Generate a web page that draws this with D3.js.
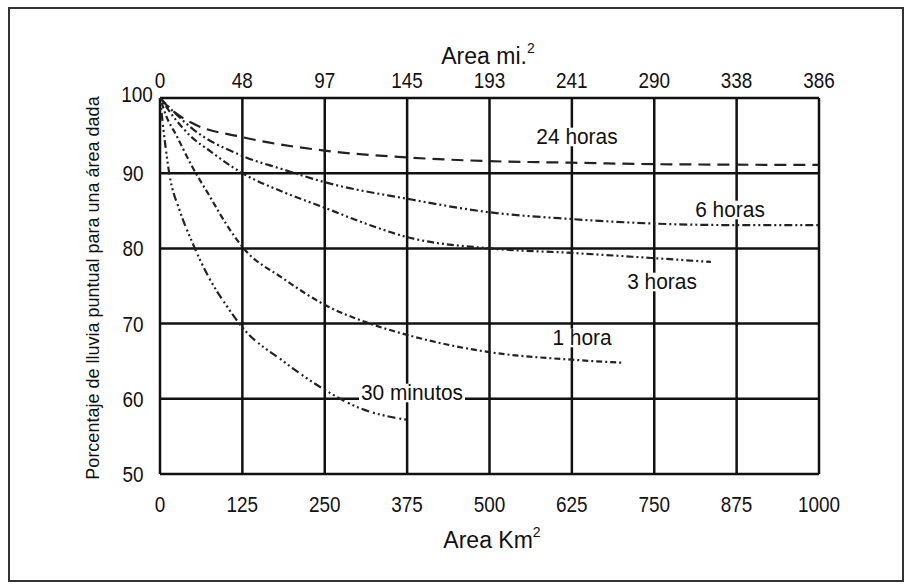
<!DOCTYPE html>
<html>
<head>
<meta charset="utf-8">
<script src="https://cdn.jsdelivr.net/npm/d3@7"></script>
<style>
  body { margin: 0; background: #fff; }
  text { font-family: "Liberation Sans", Arial, sans-serif; fill: #111; }
</style>
</head>
<body>
<svg id="svg" width="912" height="588"></svg>
<script>
const svg = d3.select("#svg");

// tick labels
const kmTicks = [0, 125, 250, 375, 500, 625, 750, 875, 1000];
const miTicks = ["0", "48", "97", "145", "193", "241", "290", "338", "386"];
const pctTicks = [50, 60, 70, 80, 90, 100];

// curves (area km2, % of point rainfall)
const area24h = [0, 14, 48, 125, 250, 375, 500, 625, 750, 1000];
const pct24h = [100, 98.7, 96.7, 94.8, 93, 92.1, 91.6, 91.4, 91.2, 91.1];
const area6h = [0, 25, 48, 125, 187, 250, 375, 500, 625, 750, 875, 1000];
const pct6h = [100, 97.8, 96, 92.3, 90.5, 88.8, 86.6, 84.8, 83.9, 83.3, 83.1, 83.1];
const area3h = [0, 25, 48, 75, 125, 187, 250, 312, 375, 500, 625, 750, 836];
const pct3h = [100, 97, 94.8, 93, 90, 87.5, 85.4, 83.3, 81.5, 80, 79.4, 78.7, 78.2];
const area1h = [0, 10, 25, 48, 75, 100, 125, 187, 250, 312, 375, 500, 625, 700];
const pct1h = [100, 97.5, 95, 91, 87, 83.3, 80.2, 76, 72.5, 70.2, 68.5, 66.2, 65.2, 64.8];
const area30m = [0, 5, 14, 30, 48, 75, 100, 125, 187, 250, 302, 375];
const pct30m = [100, 96, 90, 85, 81, 76, 72.5, 69.5, 65, 61.2, 58.8, 57.2];

const series = [
	{ name: "24 horas", area: area24h, pct: pct24h, dash: "12,7", lx: 577, ly: 137 },
	{ name: "6 horas", area: area6h, pct: pct6h, dash: "8,3,2,3,2,3", lx: 730, ly: 210 },
	{ name: "3 horas", area: area3h, pct: pct3h, dash: "2,3,2,3,7,3", lx: 662, ly: 282 },
	{ name: "1 hora", area: area1h, pct: pct1h, dash: "2,3,6,3", lx: 582, ly: 338 },
	{ name: "30 minutos", area: area30m, pct: pct30m, dash: "2,3,2,3,2,3,8,4", lx: 412, ly: 393 },
];

const x = d3.scaleLinear().domain([0, 1000]).range([160, 819]);
const y = d3.scaleLinear().domain([50, 100]).range([474, 98]);

// narrow text: put it at (px, py) and squeeze it sideways
const narrow = (px, py, k) => `translate(${px},${py}) scale(${k},1)`;

// outer frame
svg.append("rect")
	.attr("x", 9).attr("y", 8).attr("width", 894).attr("height", 573)
	.attr("fill", "none").attr("stroke", "#333").attr("stroke-width", 2);

// grid
const grid = svg.append("g").attr("stroke", "#111").attr("stroke-width", 2.5);
grid.selectAll(".vline")
	.data(kmTicks)
	.join("line")
	.attr("class", "vline")
	.attr("x1", (d) => x(d)).attr("x2", (d) => x(d))
	.attr("y1", y(100)).attr("y2", y(50));
grid.selectAll(".hline")
	.data(pctTicks)
	.join("line")
	.attr("class", "hline")
	.attr("x1", x(0)).attr("x2", x(1000))
	.attr("y1", (d) => y(d)).attr("y2", (d) => y(d));

// curves
const line = d3.line()
	.x((d) => x(d[0]))
	.y((d) => y(d[1]))
	.curve(d3.curveMonotoneX);

svg.append("g")
	.selectAll("path")
	.data(series)
	.join("path")
	.attr("d", (s) => line(s.area.map((a, i) => [a, s.pct[i]])))
	.attr("fill", "none")
	.attr("stroke", "#222")
	.attr("stroke-width", 2.2)
	.attr("stroke-dasharray", (s) => s.dash);

// curve labels, with a white patch behind
const labels = svg.append("g").selectAll("g").data(series).join("g")
	.attr("transform", (s) => narrow(s.lx, s.ly, 0.95));
labels.append("text")
	.attr("text-anchor", "middle")
	.attr("dominant-baseline", "central")
	.attr("font-size", 22)
	.text((s) => s.name);
labels.each(function () {
	const g = d3.select(this);
	const b = g.select("text").node().getBBox();
	g.insert("rect", "text")
		.attr("x", b.x - 2).attr("y", b.y + 3)
		.attr("width", b.width + 4).attr("height", b.height - 6)
		.attr("fill", "#fff");
});

// bottom axis labels
svg.append("g")
	.selectAll("text")
	.data(kmTicks)
	.join("text")
	.attr("transform", (d) => narrow(x(d), 504, 0.86))
	.attr("text-anchor", "middle").attr("dominant-baseline", "central")
	.attr("font-size", 22)
	.text((d) => d);

// top axis labels
svg.append("g")
	.selectAll("text")
	.data(miTicks)
	.join("text")
	.attr("transform", (d, i) => narrow(x(kmTicks[i]), 80, 0.86))
	.attr("text-anchor", "middle").attr("dominant-baseline", "central")
	.attr("font-size", 22)
	.text((d) => d);

// left axis labels
svg.append("g")
	.selectAll("text")
	.data(pctTicks)
	.join("text")
	.attr("transform", (d) => (d == 100 ? narrow(137, 94, 0.86) : narrow(133, y(d), 0.86)))
	.attr("text-anchor", "middle").attr("dominant-baseline", "central")
	.attr("font-size", 22)
	.text((d) => d);

// axis titles
const topTitle = svg.append("text")
	.attr("x", 488).attr("y", 56)
	.attr("text-anchor", "middle").attr("dominant-baseline", "central")
	.attr("font-size", 23);
topTitle.append("tspan").text("Area mi.");
topTitle.append("tspan").attr("font-size", 14).attr("dy", -8).text("2");

const bottomTitle = svg.append("text")
	.attr("x", 492).attr("y", 540)
	.attr("text-anchor", "middle").attr("dominant-baseline", "central")
	.attr("font-size", 23);
bottomTitle.append("tspan").text("Area Km");
bottomTitle.append("tspan").attr("font-size", 14).attr("dy", -8).text("2");

svg.append("text")
	.attr("transform", "translate(93,288) rotate(-90)")
	.attr("text-anchor", "middle").attr("dominant-baseline", "central")
	.attr("font-size", 18)
	.text("Porcentaje de lluvia puntual para una área dada");
</script>
</body>
</html>
